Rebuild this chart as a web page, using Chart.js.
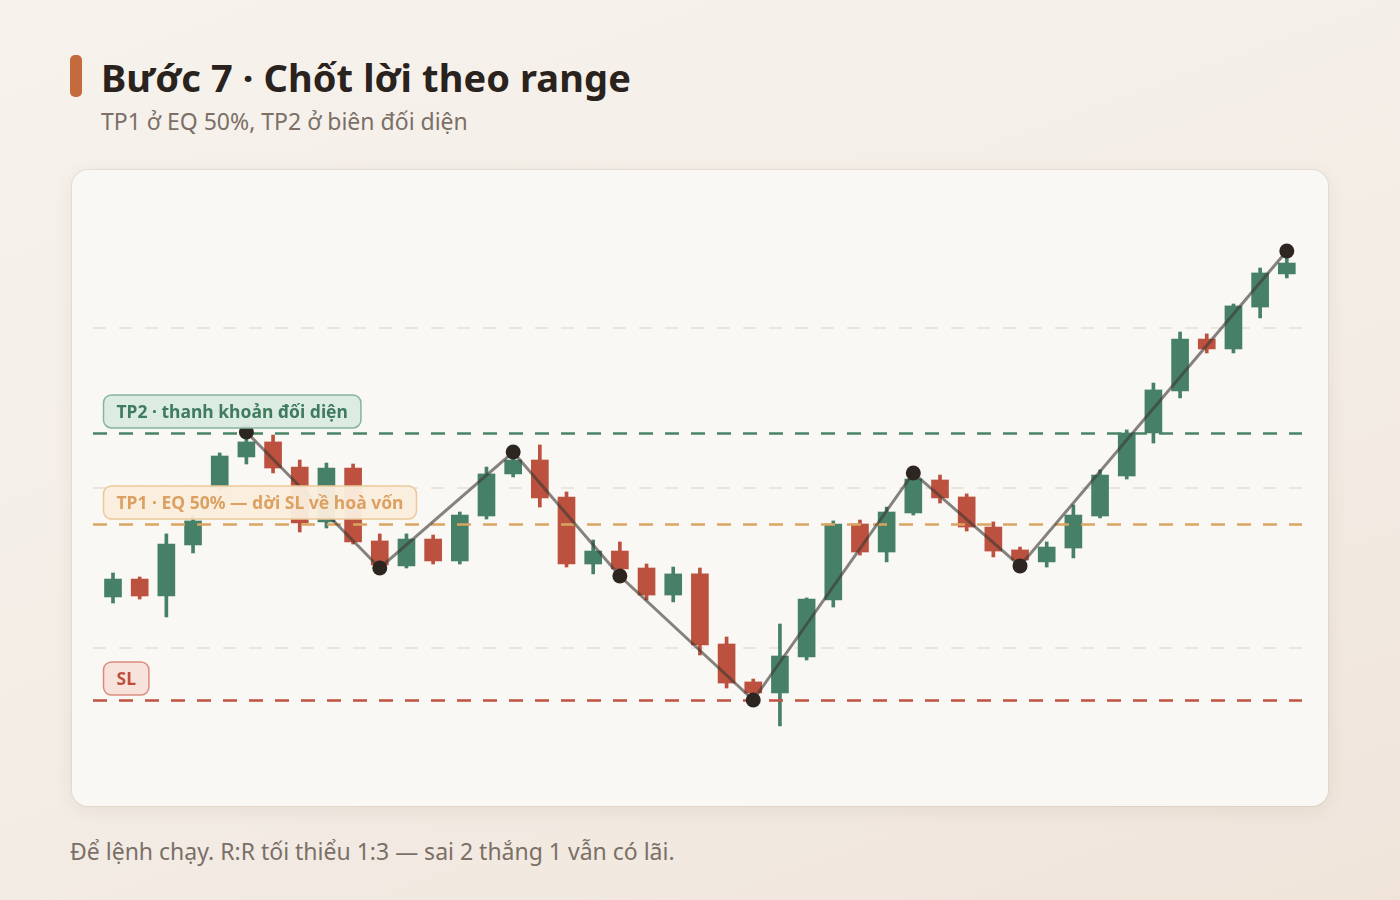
<!DOCTYPE html>
<html lang="vi">
<head>
<meta charset="utf-8">
<title>Bước 7 · Chốt lời theo range</title>
<script src="https://cdn.jsdelivr.net/npm/chart.js@4.4.1/dist/chart.umd.min.js"></script>
<style>
  html, body { margin: 0; padding: 0; }
  body {
    width: 1400px; height: 900px; overflow: hidden; position: relative;
    font-family: "Noto Sans", "Open Sans", sans-serif;
    background: linear-gradient(160deg, #f6f2ec 0%, #f3ede6 55%, #f0e4da 100%);
  }
  .bar {
    position: absolute; left: 70px; top: 55px; width: 12px; height: 42px;
    background: #c56a3d; border-radius: 5px;
  }
  h1 {
    position: absolute; left: 101px; top: 51px; margin: 0;
    font-size: 38px; line-height: 52px; font-weight: 700; color: #2a221d;
    letter-spacing: 0.1px;
  }
  .sub {
    position: absolute; left: 101px; top: 105px; margin: 0;
    font-size: 23px; line-height: 32px; color: #7b6f67;
  }
  .card {
    position: absolute; left: 72px; top: 170px; width: 1256px; height: 636px;
    background: #faf8f4; border-radius: 16px;
    box-shadow: 0 4px 18px rgba(120, 95, 70, 0.10), 0 0 0 1px rgba(200, 185, 165, 0.25);
  }
  .card canvas { position: absolute; left: 0; top: 0; }
  .foot {
    position: absolute; left: 70px; top: 835px; margin: 0;
    font-size: 23px; line-height: 32px; color: #7b6f67;
  }
</style>
</head>
<body>
<div class="bar"></div>
<h1>Bước 7 · Chốt lời theo range</h1>
<p class="sub">TP1 ở EQ 50%, TP2 ở biên đối diện</p>
<div class="card"><canvas id="c" width="1256" height="636"></canvas></div>
<p class="foot">Để lệnh chạy. R:R tối thiểu 1:3 — sai 2 thắng 1 vẫn có lãi.</p>

<script>
// nến: mở, cao, thấp, đóng
const opens  = [23.19, 24.31, 23.25, 26.44, 30.00, 31.94, 32.88, 31.31, 27.88, 31.25,
                26.69, 25.13, 26.81, 25.44, 28.25, 30.88, 31.75, 29.44, 25.25, 26.06,
                25.00, 23.31, 24.63, 20.25, 17.88, 17.19, 19.44, 23.00, 27.75, 26.00,
                28.44, 30.50, 29.44, 27.56, 26.13, 25.38, 26.25, 28.25, 30.75, 33.44,
                36.06, 39.31, 38.69, 41.31, 43.38];
const highs  = [24.69, 24.44, 27.13, 28.31, 32.19, 33.50, 33.31, 31.75, 31.56, 31.50,
                27.13, 27.13, 27.06, 28.50, 31.31, 32.25, 32.69, 29.75, 26.75, 26.63,
                25.25, 25.06, 25.00, 20.69, 18.06, 21.50, 23.13, 27.94, 28.00, 28.81,
                30.94, 30.81, 29.63, 27.88, 26.31, 26.63, 28.94, 31.13, 33.63, 36.56,
                39.75, 39.63, 41.50, 43.75, 44.81];
const lows   = [22.81, 23.06, 21.94, 25.94, 29.88, 31.50, 30.94, 27.25, 27.50, 26.50,
                25.00, 25.00, 25.25, 25.25, 28.06, 30.69, 28.81, 25.06, 24.63, 24.50,
                23.00, 22.88, 19.56, 17.50, 16.75, 15.13, 19.25, 22.56, 25.81, 25.38,
                28.31, 29.06, 27.31, 25.69, 25.13, 25.06, 25.63, 28.13, 30.56, 32.81,
                35.63, 38.44, 38.44, 40.63, 43.13];
const closes = [24.31, 23.25, 26.50, 27.94, 32.00, 32.88, 31.25, 27.81, 31.25, 26.63,
                25.19, 26.81, 25.44, 28.31, 30.88, 31.75, 29.38, 25.25, 26.06, 24.94,
                23.31, 24.63, 20.19, 17.81, 17.19, 19.50, 23.06, 27.75, 26.00, 28.50,
                30.56, 29.38, 27.56, 26.06, 25.50, 26.31, 28.31, 30.81, 33.44, 36.13,
                39.31, 38.69, 41.38, 43.44, 44.06];

// đỉnh / đáy swing (chỉ số nến, giá)
const swingIdx   = [5, 10, 15, 19, 24, 30, 34, 44];
const swingPrice = [33.50, 25.00, 32.25, 24.50, 16.75, 30.94, 25.13, 44.81];

// mức giá
const levelPrices = [33.44, 27.75, 16.75];
const levelNames  = ['TP2 · thanh khoản đối diện', 'TP1 · EQ 50% — dời SL về hoà vốn', 'SL'];
const gridTicks   = [20, 30, 40];

const GREEN = '#468167';
const RED = '#bb513e';
const levelStyles = [
  { line: '#4a8467', fill: 'rgba(220,235,226,0.96)', stroke: '#86b49d', text: '#3f7b5f' },
  { line: '#dca461', fill: 'rgba(250,237,222,0.96)', stroke: '#ecc799', text: '#dca162' },
  { line: '#c0523f', fill: 'rgba(247,225,219,0.96)', stroke: '#da8d7e', text: '#bf4f3d' }
];

const candleColors = opens.map((o, i) => closes[i] >= o ? GREEN : RED);
const bodies = opens.map((o, i) => ({ x: i, y: [o, closes[i]] }));
const wicks = lows.map((l, i) => ({ x: i, y: [l, highs[i]] }));
const swings = swingIdx.map((x, i) => ({ x: x, y: swingPrice[i] }));

function roundRect(ctx, x, y, w, h, r) {
  ctx.beginPath();
  ctx.moveTo(x + r, y);
  ctx.arcTo(x + w, y, x + w, y + h, r);
  ctx.arcTo(x + w, y + h, x, y + h, r);
  ctx.arcTo(x, y + h, x, y, r);
  ctx.arcTo(x, y, x + w, y, r);
  ctx.closePath();
}

const levelsPlugin = {
  id: 'levels',
  beforeDatasetDraw(chart, args) {
    if (args.index !== 0) return;
    const { ctx, chartArea, scales } = chart;
    ctx.save();
    levelPrices.forEach((p, i) => {
      const y = Math.round(scales.y.getPixelForValue(p)) + 0.5;
      ctx.strokeStyle = levelStyles[i].line;
      ctx.lineWidth = 2.5;
      ctx.setLineDash([14, 12]);
      ctx.beginPath();
      ctx.moveTo(chartArea.left, y);
      ctx.lineTo(chartArea.right, y);
      ctx.stroke();
    });
    ctx.restore();
  },
  afterDatasetsDraw(chart) {
    const { ctx, chartArea, scales } = chart;
    ctx.save();
    ctx.font = '700 17.5px "Noto Sans", sans-serif';
    ctx.textBaseline = 'middle';
    levelPrices.forEach((p, i) => {
      const y = scales.y.getPixelForValue(p);
      const s = levelStyles[i];
      const w = ctx.measureText(levelNames[i]).width + 26;
      const x = chartArea.left + 10.5;
      const top = y - 38;
      roundRect(ctx, x, top, w, 33, 8);
      ctx.fillStyle = s.fill;
      ctx.fill();
      ctx.lineWidth = 1.5;
      ctx.strokeStyle = s.stroke;
      ctx.stroke();
      ctx.fillStyle = s.text;
      ctx.fillText(levelNames[i], x + 13, top + 18.5);
    });
    ctx.restore();
  }
};

new Chart(document.getElementById('c'), {
  type: 'bar',
  data: {
    datasets: [
      {
        type: 'line',
        data: swings,
        order: 0,
        borderColor: 'rgba(62, 56, 52, 0.62)',
        borderWidth: 3,
        pointRadius: 7.5,
        pointBackgroundColor: '#2d2520',
        pointBorderWidth: 0,
        tension: 0
      },
      {
        data: bodies,
        order: 1,
        backgroundColor: candleColors,
        barThickness: 17,
        grouped: false
      },
      {
        data: wicks,
        order: 2,
        backgroundColor: candleColors,
        barThickness: 3,
        grouped: false
      }
    ]
  },
  options: {
    responsive: false,
    animation: false,
    layout: { padding: { left: 21, right: 26, top: 20, bottom: 26 } },
    plugins: { legend: { display: false }, tooltip: { enabled: false } },
    scales: {
      x: {
        type: 'linear',
        offset: false,
        min: -0.75,
        max: 44.57,
        display: false
      },
      y: {
        min: 11.75,
        max: 48.625,
        afterBuildTicks(scale) { scale.ticks = gridTicks.map(v => ({ value: v })); },
        ticks: { display: false },
        border: { display: false, dash: [13, 13] },
        grid: { color: '#ebe5db', lineWidth: 2, drawTicks: false },
        afterFit(scale) { scale.width = 0; }
      }
    }
  },
  plugins: [levelsPlugin]
});
</script>
</body>
</html>
